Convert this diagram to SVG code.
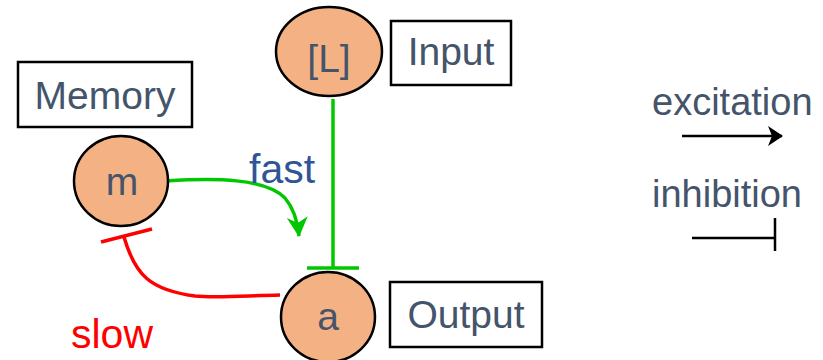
<svg xmlns="http://www.w3.org/2000/svg" width="823" height="360" viewBox="0 0 823 360">
<style>
.node{fill:#F4B183;stroke:#000;stroke-width:2.5}
.box{fill:#fff;stroke:#000;stroke-width:2.5}
.t{font-family:"Liberation Sans",Arial,sans-serif;font-size:39px;fill:#44546A;text-anchor:middle}
.lt{font-family:"Liberation Sans",Arial,sans-serif;font-size:38px;fill:#44546A}
.g{fill:none;stroke:#00C800;stroke-width:3.5}
.r{fill:none;stroke:#FF0000;stroke-width:3.5}
.k{fill:none;stroke:#000;stroke-width:2.5}
</style>
<defs>
<marker id="gArrow" viewBox="0 0 24 24" refX="19" refY="12" markerWidth="24" markerHeight="24" markerUnits="userSpaceOnUse" orient="auto">
<path d="M0,1.5 L20,12 L0,22.5 L6,12 Z" fill="#00C800"/>
</marker>
<marker id="kArrow" viewBox="0 0 16 22" refX="14" refY="11" markerWidth="16" markerHeight="22" markerUnits="userSpaceOnUse" orient="auto">
<path d="M0,1 L15,11 L0,21 L4,11 Z" fill="#000"/>
</marker>
</defs>
<rect width="823" height="360" fill="#fff"/>
<g id="connectors">
<path class="g" d="M333,99 L333,268"/>
<path class="g" d="M307,268 L359,268"/>
<path class="g" d="M166,181 C215,178 265,178 285,198 C295,210 298,225 299,236" marker-end="url(#gArrow)"/>
<path class="r" d="M280,295 C240,296 215,298 195,296 C150,290 135,275 124,237"/>
<path class="r" d="M101,242 L152,229"/>
</g>
<g id="node-L">
<ellipse class="node" cx="329" cy="51.5" rx="53" ry="44.5"/>
<text class="t" x="329" y="72">[L]</text>
</g>
<g id="node-input">
<rect class="box" x="391" y="21" width="120" height="64"/>
<text class="t" x="451" y="65">Input</text>
</g>
<g id="node-memory">
<rect class="box" x="18" y="62" width="174" height="65"/>
<text class="t" x="105" y="109">Memory</text>
</g>
<g id="node-m">
<ellipse class="node" cx="121" cy="181" rx="47" ry="45"/>
<text class="t" x="122" y="195">m</text>
</g>
<g id="node-a">
<ellipse class="node" cx="328" cy="317" rx="47" ry="45"/>
<text class="t" x="328" y="330">a</text>
</g>
<g id="node-output">
<rect class="box" x="390" y="282" width="152" height="65"/>
<text class="t" x="466" y="328">Output</text>
</g>
<g id="labels">
<text class="lt" x="249" y="183" style="fill:#2F5597;font-size:41px">fast</text>
<text class="lt" x="71" y="348" style="fill:#FF0000;font-size:41px">slow</text>
</g>
<g id="legend">
<text class="lt" x="652" y="115">excitation</text>
<path class="k" d="M682,136 L782,136" marker-end="url(#kArrow)"/>
<text class="lt" x="652" y="207">inhibition</text>
<path class="k" d="M692,238 L775,238 M775,218 L775,251"/>
</g>
</svg>
